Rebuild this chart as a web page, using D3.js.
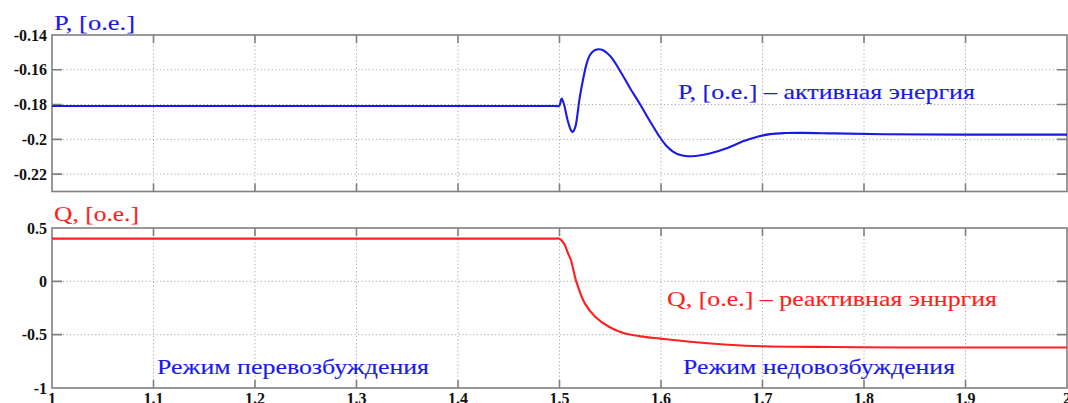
<!DOCTYPE html>
<html>
<head>
<meta charset="utf-8">
<script src="https://cdn.jsdelivr.net/npm/d3@7"></script>
<style>
  html, body { margin: 0; padding: 0; background: #fff; }
  svg { display: block; }
  text { font-family: "Liberation Serif", "DejaVu Serif", "Times New Roman", serif; }
</style>
</head>
<body>
<svg id="chart" width="1068" height="403"></svg>
<script>
// Time axis, seconds
const timeTicks  = [1, 1.1, 1.2, 1.3, 1.4, 1.5, 1.6, 1.7, 1.8, 1.9, 2];
const timeLabels = ["1", "1.1", "1.2", "1.3", "1.4", "1.5", "1.6", "1.7", "1.8", "1.9", "2"];

// Active power P, p.u.
const pTicks  = [-0.22, -0.2, -0.18, -0.16, -0.14];
const pLabels = ["-0.22", "-0.2", "-0.18", "-0.16", "-0.14"];
const pTime = [1.0, 1.2, 1.4, 1.48, 1.495, 1.4995, 1.5012, 1.5022, 1.5045, 1.508, 1.5115, 1.513, 1.5155, 1.5202,
               1.5268, 1.530, 1.534, 1.538, 1.5425, 1.5465, 1.5515, 1.559, 1.569, 1.5795,
               1.589, 1.598, 1.605, 1.6118, 1.619, 1.6266, 1.636, 1.648, 1.664,
               1.6815, 1.695, 1.7074, 1.722, 1.74, 1.77, 1.82, 1.9, 2.0];
const pValue = [-0.1808, -0.1808, -0.1808, -0.1808, -0.1808, -0.1808, -0.1782, -0.1765, -0.1800, -0.1890, -0.1950, -0.1958, -0.1930, -0.1750,
                -0.1563, -0.1515, -0.1490, -0.1482, -0.1486, -0.1502, -0.1532, -0.1600, -0.1700, -0.1800,
                -0.1895, -0.1980, -0.2035, -0.2070, -0.2090, -0.2097, -0.2094, -0.2082, -0.2053,
                -0.2010, -0.1985, -0.1970, -0.1964, -0.1963, -0.1966, -0.1971, -0.1973, -0.1973];

// Reactive power Q, p.u.
const qTicks  = [-1, -0.5, 0, 0.5];
const qLabels = ["-1", "-0.5", "0", "0.5"];
const qTime = [1.0, 1.2, 1.4, 1.48, 1.495, 1.5, 1.5045, 1.5079, 1.5113, 1.5165, 1.5251, 1.5354, 1.5491, 1.5629,
               1.58, 1.5997, 1.6316, 1.666, 1.6993, 1.769, 1.838, 1.92, 2.0];
const qValue = [0.4, 0.4, 0.4, 0.4, 0.4, 0.4, 0.353, 0.275, 0.197, 0.0, -0.209, -0.334, -0.428, -0.484,
                -0.516, -0.5375, -0.569, -0.594, -0.609, -0.616, -0.62, -0.62, -0.62];

const svg = d3.select("#chart");
const AXIS = "#808080", GRID = "#a9a9a9";
const BLUE = "#1a1ae6", RED = "#ff1f1f";

const x = d3.scaleLinear().domain([1, 2]).range([52, 1067]);

const panels = [
  { y: d3.scaleLinear().domain([-0.23, -0.14]).range([191.5, 35]),
    ticks: pTicks, labels: pLabels, time: pTime, value: pValue, color: BLUE, xLabels: false },
  { y: d3.scaleLinear().domain([-1, 0.5]).range([388, 228]),
    ticks: qTicks, labels: qLabels, time: qTime, value: qValue, color: RED, xLabels: true }
];

panels.forEach(p => {
  const g = svg.append("g");
  const [y0, y1] = p.y.range(); // bottom, top
  const [x0, x1] = x.range();

  // dotted grid
  g.selectAll(".vgrid").data(timeTicks.slice(1, -1)).join("line")
    .attr("x1", d => x(d)).attr("x2", d => x(d))
    .attr("y1", y1).attr("y2", y0)
    .attr("stroke", GRID).attr("stroke-width", 1).attr("stroke-dasharray", "1.2,2.4");
  const inner = p.ticks.filter(t => Math.abs(p.y(t) - y1) > 1 && Math.abs(p.y(t) - y0) > 1);
  g.selectAll(".hgrid").data(inner).join("line")
    .attr("x1", x0).attr("x2", x1)
    .attr("y1", d => p.y(d)).attr("y2", d => p.y(d))
    .attr("stroke", GRID).attr("stroke-width", 1).attr("stroke-dasharray", "1.2,2.4");

  // inward tick marks
  const tk = 8;
  g.selectAll(".xt").data(timeTicks.slice(1, -1)).join("path")
    .attr("d", d => `M${x(d)},${y1}v${tk}M${x(d)},${y0}v${-tk}`)
    .attr("stroke", AXIS).attr("stroke-width", 1.6).attr("fill", "none");
  g.selectAll(".yt").data(inner).join("path")
    .attr("d", d => `M${x0},${p.y(d)}h${tk + 2}M${x1},${p.y(d)}h${-(tk + 2)}`)
    .attr("stroke", AXIS).attr("stroke-width", 1.6).attr("fill", "none");

  // frame
  g.append("rect")
    .attr("x", x0).attr("y", y1).attr("width", x1 - x0).attr("height", y0 - y1)
    .attr("fill", "none").attr("stroke", AXIS).attr("stroke-width", 1.6);

  // y tick labels
  g.selectAll(".yl").data(p.ticks).join("text")
    .attr("x", 47).attr("y", d => p.y(d)).attr("dy", "0.35em")
    .attr("text-anchor", "end")
    .attr("font-weight", "bold").attr("font-size", 16)
    .attr("fill", "#111")
    .text((d, i) => p.labels[i]);

  if (p.xLabels) {
    g.selectAll(".xl").data(timeTicks).join("text")
      .attr("x", d => x(d)).attr("y", 404)
      .attr("text-anchor", "middle")
      .attr("font-weight", "bold").attr("font-size", 16)
      .attr("fill", "#111")
      .text((d, i) => timeLabels[i]);
  }

  // series line
  const line = d3.line()
    .x((d, i) => x(p.time[i]))
    .y(d => p.y(d))
    .curve(d3.curveCatmullRom.alpha(0.5));
  g.append("path")
    .datum(p.value)
    .attr("d", line)
    .attr("fill", "none").attr("stroke", p.color).attr("stroke-width", 2.1)
    .attr("stroke-linejoin", "round");
});

// titles and annotations
const notes = [
  { text: "P, [o.e.]", x: 54, y: 30, w: 81, color: BLUE },
  { text: "Q, [o.e.]", x: 54, y: 221, w: 85, color: RED },
  { text: "P, [o.e.] \u2013 активная энергия", x: 678, y: 99, w: 297, color: BLUE },
  { text: "Q, [o.e.] \u2013 реактивная эннргия", x: 667, y: 306, w: 330, color: RED },
  { text: "Режим перевозбуждения", x: 157, y: 374, w: 272, color: BLUE },
  { text: "Режим недовозбуждения", x: 683, y: 374, w: 272, color: BLUE }
];
svg.selectAll(".note").data(notes).join("text")
  .attr("x", d => d.x).attr("y", d => d.y)
  .attr("font-size", 21)
  .attr("fill", d => d.color)
  .attr("stroke", d => d.color).attr("stroke-width", 0.15)
  .attr("textLength", d => d.w).attr("lengthAdjust", "spacingAndGlyphs")
  .text(d => d.text);
</script>
</body>
</html>
